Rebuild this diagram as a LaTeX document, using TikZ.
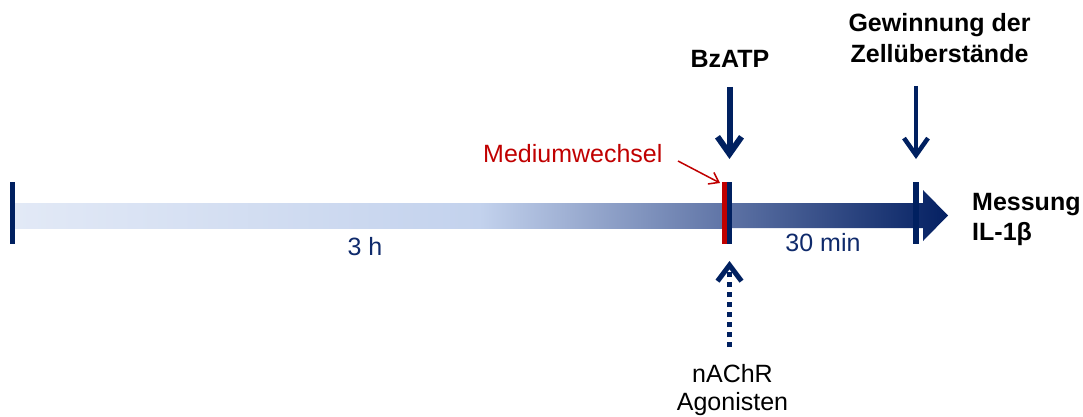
\documentclass[tikz,border=0pt]{standalone}
\usepackage{fontspec}
\setmainfont{Liberation Sans}
\usetikzlibrary{arrows.meta}
\definecolor{navy}{HTML}{002060}
\definecolor{tnavy}{HTML}{0F2A6B}
\definecolor{mred}{HTML}{C00000}
\definecolor{g1}{RGB}{226,233,246}
\definecolor{g2}{RGB}{195,210,237}
\definecolor{g3}{RGB}{95,116,166}
\definecolor{g4}{RGB}{4,32,98}
\begin{document}
\begin{tikzpicture}[x=1pt,y=-1pt,
  lbl/.style={inner sep=0pt, anchor=base},
  boldlbl/.style={lbl, font=\fontsize{25}{31}\selectfont\bfseries},
  normlbl/.style={lbl, font=\fontsize{25}{28}\selectfont},
  tickmark/.style={fill=navy, draw=none},
  downarrow/.style={navy, line width=#1, -{Straight Barb[length=17pt,width=24pt]}},
]
\useasboundingbox (0,0) rectangle (1083,417);

% timeline bar
\shade[left color=g1, right color=g2] (15,203) rectangle (480,228);
\shade[left color=g2, right color=g3] (479.5,203) rectangle (725,228);
\shade[left color=g3, right color=g4] (724.5,203) -- (923,203) -- (923,190) -- (948,215.5)
   -- (923,241) -- (923,228) -- (724.5,228) -- cycle;

% ticks
\fill[tickmark] (10,182) rectangle (15,244);
\fill[mred] (722,182) rectangle (727,244);
\fill[tickmark] (727,182) rectangle (732,244);
\fill[tickmark] (913,182) rectangle (919,244);

% labels (anchor base = baseline of the last line)
\node[boldlbl, align=center] (gew) at (939.5,62.7) {Gewinnung der\\Zellüberstände};
\node[boldlbl] (bz) at (730,68) {BzATP};
\node[boldlbl, anchor=base west, align=left, font=\fontsize{25}{30}\selectfont\bfseries] (mes) at (972,240) {Messung\\IL-1β};
\node[normlbl, anchor=base west, text=mred] (med) at (483,162) {Mediumwechsel};
\node[normlbl, text=tnavy] (h3) at (365,255) {3 h};
\node[normlbl, text=tnavy] (m30) at (823,251.7) {30 min};
\node[normlbl, align=center] (nachr) at (732.5,410) {nAChR\\Agonisten};

% arrow coordinates
\coordinate (bzS) at (729.5,87);
\coordinate (bzE) at (729.5,159);
\coordinate (gwS) at (916,86);
\coordinate (gwE) at (916,159);
\coordinate (mdS) at (678,161);
\coordinate (mdE) at (720,183);
\coordinate (agS) at (729.5,347);
\coordinate (agE) at (729.5,261);

\draw[downarrow=6pt] (bzS) -- (bzE);
\draw[downarrow=4.5pt] (gwS) -- (gwE);
\draw[mred, line width=1.5pt, -{Straight Barb[length=9pt,width=13pt]}] (mdS) -- (mdE);
\draw[navy, line width=5pt, dash pattern=on 5pt off 5pt, -{Straight Barb[length=16pt,width=24pt]}] (agS) -- (agE);
\end{tikzpicture}
\end{document}
